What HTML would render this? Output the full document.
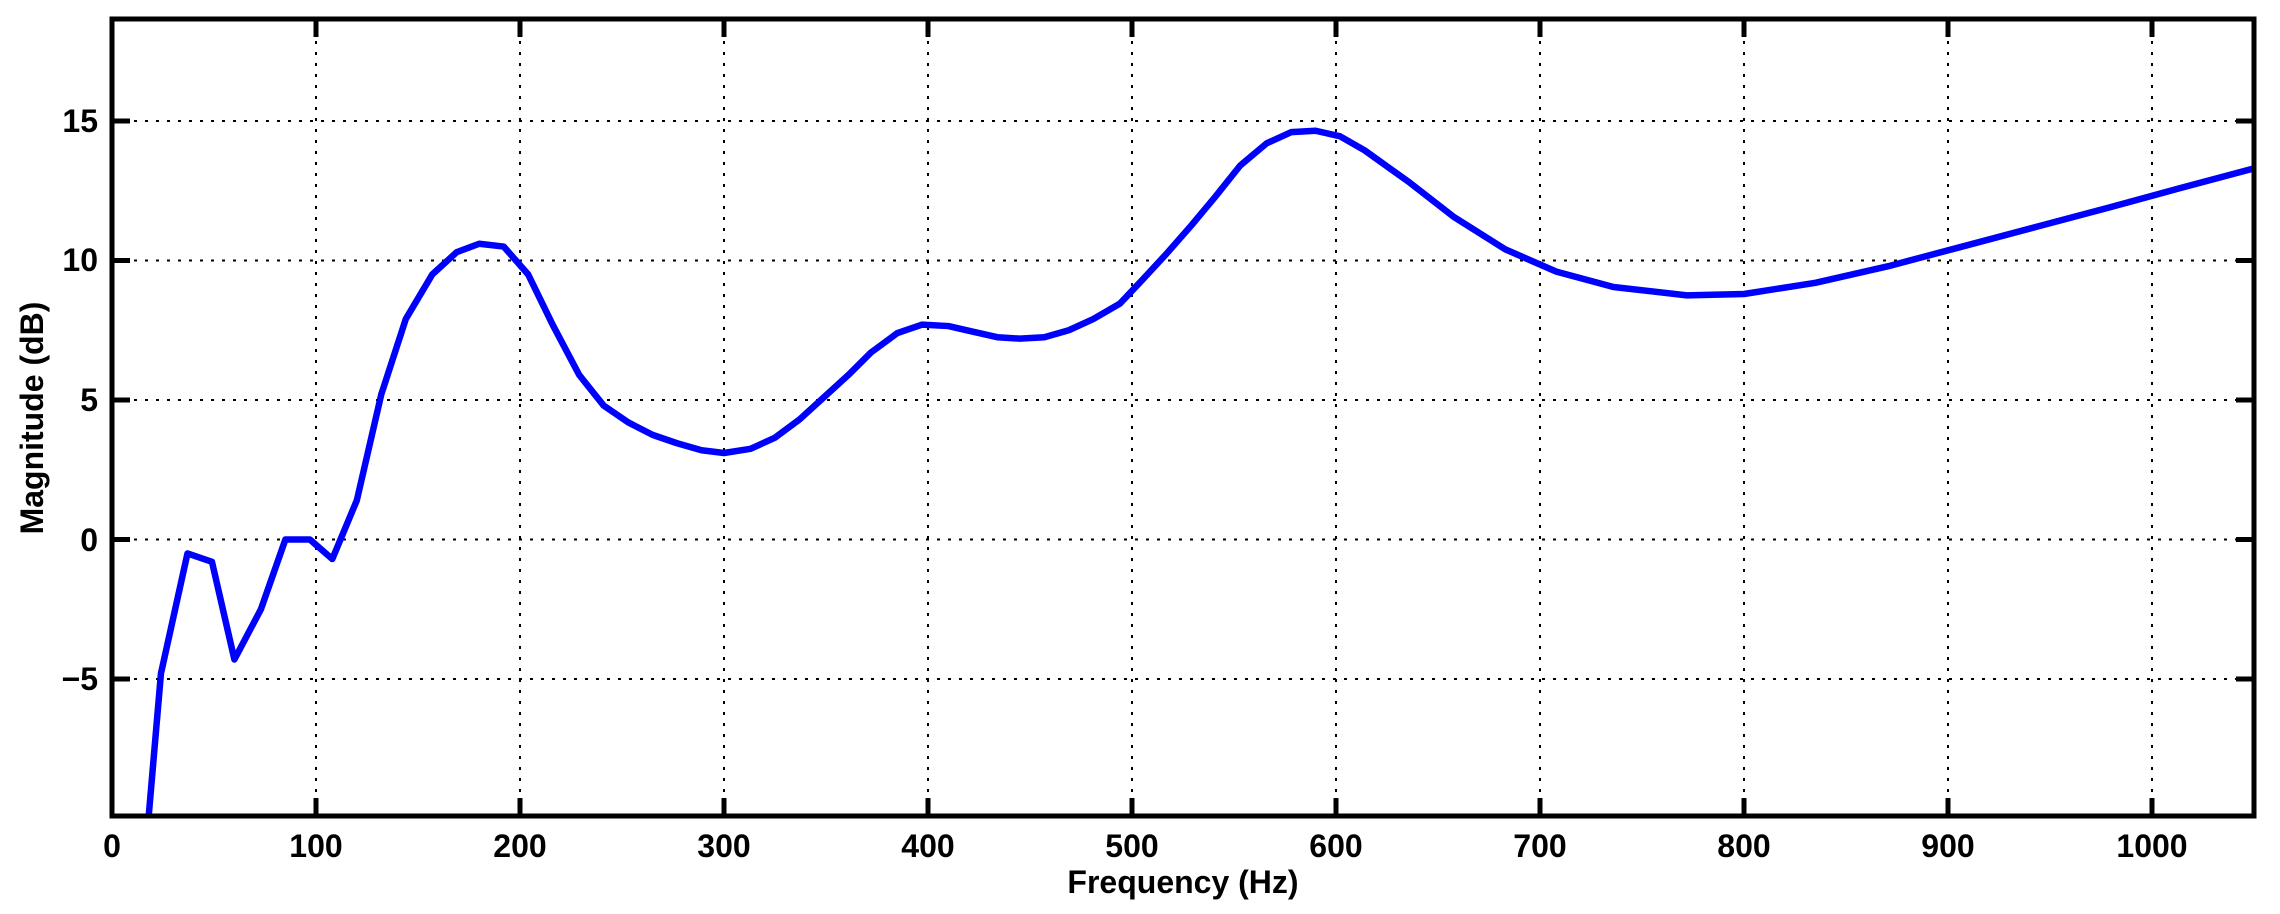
<!DOCTYPE html>
<html><head><style>html,body{margin:0;padding:0;background:#fff}svg{display:block}text{font-family:"Liberation Sans",sans-serif;font-weight:bold;fill:#000}</style></head>
<body>
<svg width="2280" height="914" viewBox="0 0 2280 914" xmlns="http://www.w3.org/2000/svg">
<g stroke="#000" stroke-width="2" stroke-dasharray="3,8">
<line x1="316" y1="19" x2="316" y2="816"/><line x1="520" y1="19" x2="520" y2="816"/><line x1="724" y1="19" x2="724" y2="816"/><line x1="928" y1="19" x2="928" y2="816"/><line x1="1132" y1="19" x2="1132" y2="816"/><line x1="1336" y1="19" x2="1336" y2="816"/><line x1="1540" y1="19" x2="1540" y2="816"/><line x1="1744" y1="19" x2="1744" y2="816"/><line x1="1948" y1="19" x2="1948" y2="816"/><line x1="2152" y1="19" x2="2152" y2="816"/>
<line x1="112" y1="121" x2="2254" y2="121"/><line x1="112" y1="260.5" x2="2254" y2="260.5"/><line x1="112" y1="400" x2="2254" y2="400"/><line x1="112" y1="539.5" x2="2254" y2="539.5"/><line x1="112" y1="679" x2="2254" y2="679"/>
</g>
<g stroke="#000" stroke-width="5">
<path d="M316 816v-18M520 816v-18M724 816v-18M928 816v-18M1132 816v-18M1336 816v-18M1540 816v-18M1744 816v-18M1948 816v-18M2152 816v-18M316 19v18M520 19v18M724 19v18M928 19v18M1132 19v18M1336 19v18M1540 19v18M1744 19v18M1948 19v18M2152 19v18"/>
<path d="M112 121h18M112 260.5h18M112 400h18M112 539.5h18M112 679h18M2254 121h-18M2254 260.5h-18M2254 400h-18M2254 539.5h-18M2254 679h-18"/>
</g>
<svg x="112" y="19" width="2142" height="797" viewBox="112 19 2142 797" overflow="hidden">
<g transform="translate(112,539.5) scale(2.04,-27.9)">
<polyline fill="none" stroke="#0000ff" stroke-width="6.5" stroke-linejoin="round" vector-effect="non-scaling-stroke" points="16,-12 18,-9.9 24,-4.8 37,-0.5 49,-0.8 60,-4.3 73,-2.5 85,0 97,0 108,-0.7 120,1.4 132,5.2 144,7.9 157,9.5 169,10.3 180,10.6 192,10.5 204,9.5 216,7.7 229,5.9 241,4.8 253,4.2 265,3.75 277,3.45 289,3.2 300,3.1 313,3.25 325,3.65 337,4.3 349,5.1 361,5.9 372,6.7 385,7.4 397,7.7 410,7.65 422,7.45 434,7.25 445,7.2 457,7.25 469,7.5 481,7.9 494,8.45 505,9.3 517,10.25 529,11.25 541,12.3 553,13.4 566,14.2 578,14.6 590,14.65 602,14.45 614,13.95 636,12.8 658,11.55 683,10.4 708,9.6 736,9.05 772,8.75 800,8.8 835,9.2 871,9.8 907,10.5 943,11.2 979,11.9 1014,12.6 1050,13.3 1060,13.5"/>
</g>
</svg>
<rect x="112" y="19" width="2142" height="797" fill="none" stroke="#000" stroke-width="5"/>
<g font-size="32" text-anchor="middle">
<text x="112" y="857">0</text><text x="316" y="857">100</text><text x="520" y="857">200</text><text x="724" y="857">300</text><text x="928" y="857">400</text><text x="1132" y="857">500</text><text x="1336" y="857">600</text><text x="1540" y="857">700</text><text x="1744" y="857">800</text><text x="1948" y="857">900</text><text x="2152" y="857">1000</text>
</g>
<g font-size="32" text-anchor="end">
<text x="98" y="132">15</text><text x="98" y="271">10</text><text x="98" y="411">5</text><text x="98" y="551">0</text><text x="98" y="690">−5</text>
</g>
<text x="1183" y="893" font-size="32" text-anchor="middle">Frequency (Hz)</text>
<text transform="translate(43,418) rotate(-90)" font-size="32" text-anchor="middle">Magnitude (dB)</text>
</svg>
</body></html>
